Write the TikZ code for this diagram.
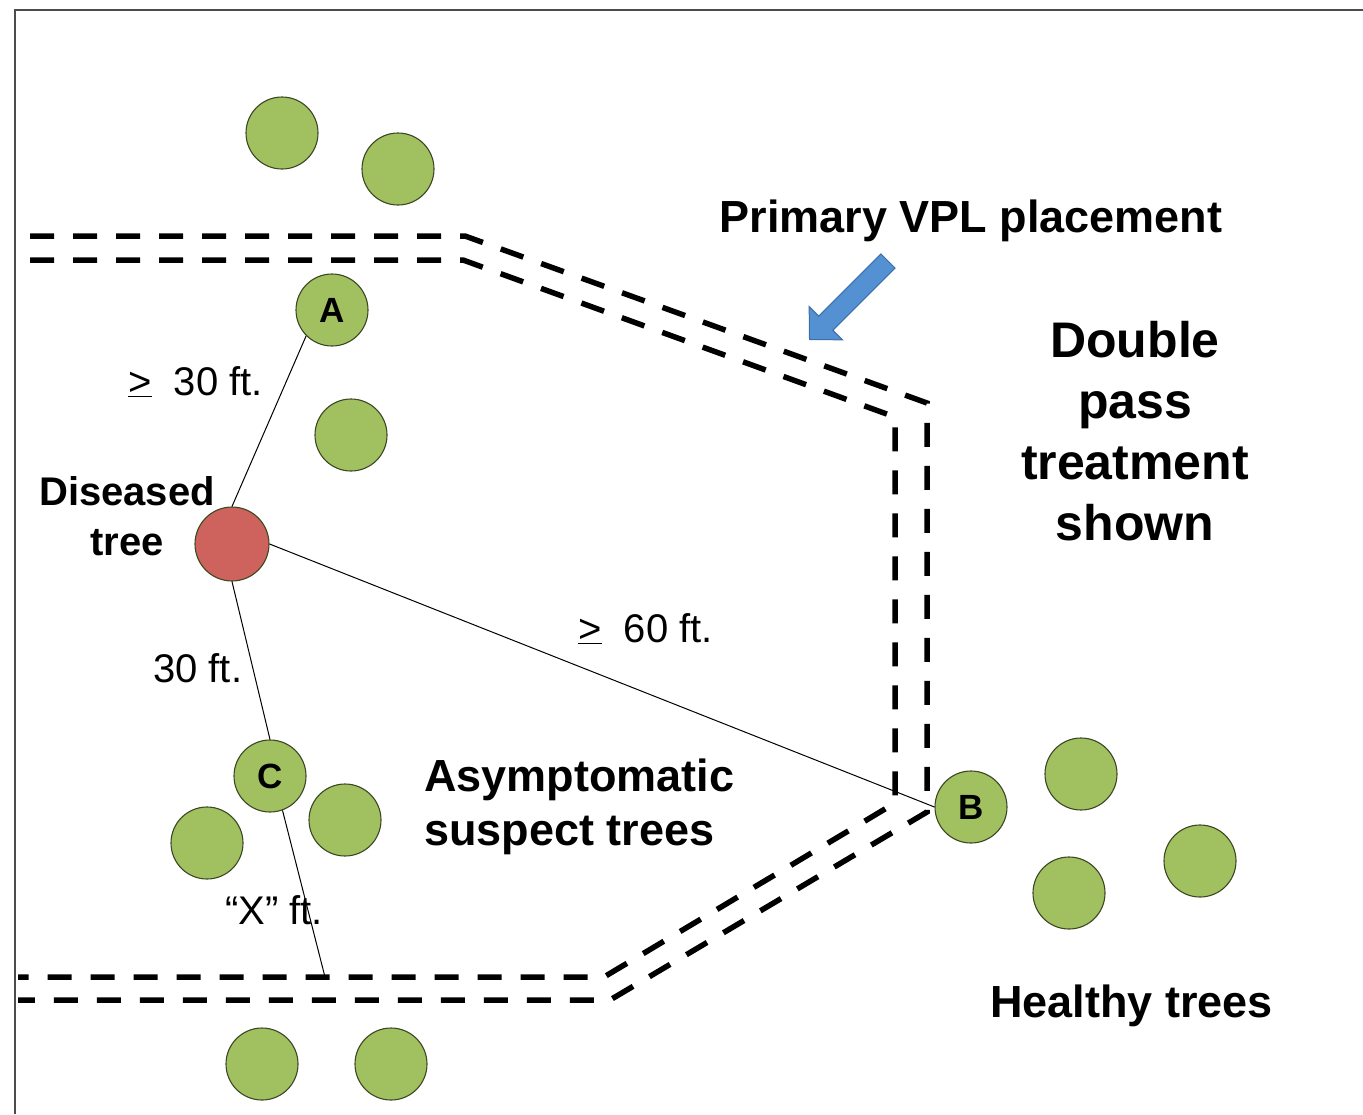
\documentclass[tikz,border=0pt]{standalone}
\usepackage{fontspec}
\setmainfont{Liberation Sans}
\usepackage{tikz}
\usetikzlibrary{calc}

\definecolor{treegreen}{RGB}{161,192,96}
\definecolor{treeedge}{RGB}{60,72,36}
\definecolor{sickred}{RGB}{206,98,92}
\definecolor{arrowblue}{RGB}{84,145,210}
\definecolor{arrowedge}{RGB}{60,110,170}

\begin{document}
\begin{tikzpicture}[x=1pt,y=-1pt,
  tree/.style={circle,draw=treeedge,line width=1.1pt,fill=treegreen,minimum size=72pt,inner sep=0pt,font=\fontsize{35}{40}\selectfont\bfseries},
  road/.style={line width=5.5pt,dash pattern=on 24pt off 19pt},
  dist/.style={inner sep=0pt,font=\fontsize{40}{46}\selectfont},
  big/.style={inner sep=0pt,font=\fontsize{45}{54}\selectfont\bfseries}]
\useasboundingbox (0,0) rectangle (1363,1114);
\draw[line width=1.5pt,black!70] (15,1114) -- (15,10) -- (1363,10);
\draw[road] (30,236) -- (465,236) -- (927,403) -- (927,812) -- (610,1000) -- (18,1000);
\draw[road] (30,260) -- (463,260) -- (895,417) -- (895,803) -- (604,977) -- (18,977);
\begin{scope}[shift={(888,261)},rotate=225]
\draw[fill=arrowblue,draw=arrowedge,line width=1pt] (0,-10) -- (88,-10) -- (88,-23.5) -- (111,0) -- (88,23.5) -- (88,10) -- (0,10) -- cycle;
\end{scope}
\node[tree] (T1) at (282,133) {};
\node[tree] (T2) at (398,169) {};
\node[tree] (A) at (332,310) {A};
\node[tree] (T3) at (351,435) {};
\node[tree,fill=sickred,minimum size=74pt] (D) at (232,544) {};
\node[tree] (C) at (270,776) {C};
\node[tree] (T4) at (207,843) {};
\node[tree] (T5) at (345,820) {};
\node[tree] (B) at (971,807) {B};
\node[tree] (T6) at (1081,774) {};
\node[tree] (T7) at (1200,861) {};
\node[tree] (T8) at (1069,893) {};
\node[tree] (T9) at (262,1064) {};
\node[tree] (T10) at (391,1064) {};
\coordinate (X) at (325,977);
\draw[line width=1pt] (D.north) -- (A.south west);
\draw[line width=1pt] (D.south) -- (C.north);
\draw[line width=1pt] (D.east) -- (B.west);
\draw[line width=1pt] (C.-70) -- (X);
\node[big,anchor=base] (vpl) at (971,232) {Primary VPL placement};
\node[big,font=\fontsize{50}{61}\selectfont\bfseries,align=center,anchor=north] (double) at (1135,321) {Double\\pass\\treatment\\shown};
\node[big,font=\fontsize{40}{50}\selectfont\bfseries,align=center,anchor=north] (diseased) at (127,476) {Diseased\\tree};
\node[big,align=left,anchor=north west] (asym) at (424,759) {Asymptomatic\\suspect trees};
\node[big,anchor=base west] (healthy) at (990,1017) {Healthy trees};
\node[dist,anchor=base west] (dA) at (128,395) {\underline{>}~~30 ft.};
\node[dist,anchor=base west] (dB) at (578,642) {\underline{>}~~60 ft.};
\node[dist,anchor=base west] (dC) at (153,682) {30 ft.};
\node[dist,anchor=base west] (dX) at (225,924) {“X” ft.};
\end{tikzpicture}
\end{document}
